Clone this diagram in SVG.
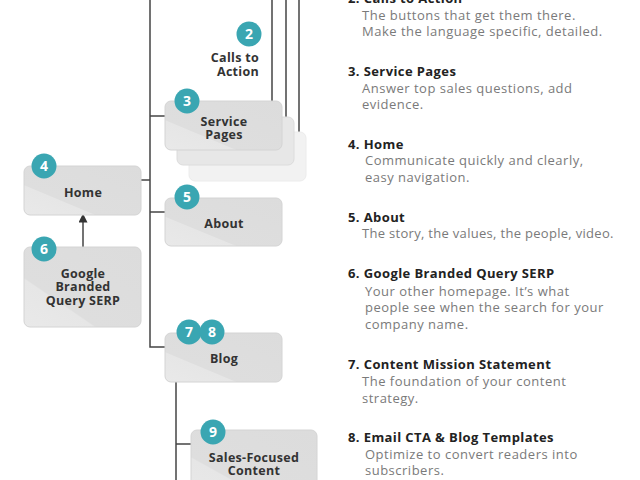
<svg xmlns="http://www.w3.org/2000/svg" width="640" height="480" viewBox="0 0 640 480">
<defs>
<linearGradient id="boxg" x1="0" y1="1" x2="1" y2="0">
<stop offset="0" stop-color="#e9e9e9"/>
<stop offset="0.3" stop-color="#e6e6e6"/>
<stop offset="0.31" stop-color="#dedede"/>
<stop offset="1" stop-color="#dcdcdc"/>
</linearGradient>
<marker id="arr" viewBox="0 0 10 10" refX="5" refY="5" markerWidth="6" markerHeight="6" orient="auto">
<path d="M0,0 L10,5 L0,10 z" fill="#333"/>
</marker>
</defs>
<style>
.box{fill:url(#boxg);stroke:#d4d4d4;stroke-width:1}
.badge{fill:#3aa6b2}
.bn{font-family:"Open Sans","Liberation Sans",sans-serif;font-weight:700;font-size:14px;fill:#fff;text-anchor:middle}
.lbl{font-family:"Open Sans","Liberation Sans",sans-serif;font-weight:700;font-size:12.5px;letter-spacing:0.3px;fill:#333;text-anchor:middle}
.r{text-anchor:end}
.h{font-family:"Open Sans","Liberation Sans",sans-serif;font-weight:700;font-size:13px;letter-spacing:0.4px;fill:#222}
.d{font-family:"Open Sans","Liberation Sans",sans-serif;font-size:13px;letter-spacing:0.5px;fill:#7a7a7a}
.ln{stroke:#444;stroke-width:1.5;fill:none}
</style>
<rect width="640" height="480" fill="#fff"/>
<g id="connectors">
<path class="ln" d="M150,0 V347 H165"/>
<path class="ln" d="M150,116 H165"/>
<path class="ln" d="M150,212 H165"/>
<path class="ln" d="M141,180 H150"/>
<path class="ln" d="M272,0 V101"/>
<path class="ln" d="M286,0 V117"/>
<path class="ln" d="M299,0 V132"/>
<path class="ln" d="M176,382 V480"/>
<path class="ln" d="M176,444 H191"/>
<path class="ln" d="M83,247 V218" marker-end="url(#arr)"/>
</g>
<g id="calls-to-action">
<circle class="badge" cx="249" cy="34" r="12.5"/>
<text class="bn" x="249" y="39">2</text>
<text class="lbl r" x="259" y="62">Calls to</text>
<text class="lbl r" x="259" y="75.5">Action</text>
</g>
<g id="service-pages">
<rect x="189" y="132" width="117" height="49" rx="6" fill="#f2f2f2" stroke="#ececec"/>
<rect x="177" y="117" width="117" height="48" rx="6" fill="#e7e7e7" stroke="#dcdcdc"/>
<rect class="box" x="165" y="101" width="117" height="49" rx="6"/>
<circle class="badge" cx="187" cy="101" r="12.5"/>
<text class="bn" x="187" y="106">3</text>
<text class="lbl" x="224" y="125.5">Service</text>
<text class="lbl" x="224" y="139">Pages</text>
</g>
<g id="home">
<rect class="box" x="24" y="166" width="117" height="49" rx="6"/>
<circle class="badge" cx="44" cy="166" r="12.5"/>
<text class="bn" x="44" y="171">4</text>
<text class="lbl" x="83" y="197">Home</text>
</g>
<g id="about">
<rect class="box" x="165" y="198" width="117" height="48" rx="6"/>
<circle class="badge" cx="187" cy="197" r="12.5"/>
<text class="bn" x="187" y="202">5</text>
<text class="lbl" x="224" y="228">About</text>
</g>
<g id="google-serp">
<rect class="box" x="24" y="247" width="117" height="80" rx="6"/>
<circle class="badge" cx="44" cy="249" r="12.5"/>
<text class="bn" x="44" y="254">6</text>
<text class="lbl" x="83" y="277.5">Google</text>
<text class="lbl" x="83" y="291">Branded</text>
<text class="lbl" x="83" y="304.5">Query SERP</text>
</g>
<g id="blog">
<rect class="box" x="165" y="333" width="117" height="49" rx="6"/>
<circle class="badge" cx="189" cy="332" r="12.5"/>
<text class="bn" x="189" y="337">7</text>
<circle class="badge" cx="212" cy="332" r="12.5"/>
<text class="bn" x="212" y="337">8</text>
<text class="lbl" x="224" y="363">Blog</text>
</g>
<g id="sales-content">
<rect class="box" x="191" y="430" width="126" height="70" rx="6"/>
<circle class="badge" cx="213" cy="432" r="12.5"/>
<text class="bn" x="213" y="437">9</text>
<text class="lbl" x="254" y="461.5">Sales-Focused</text>
<text class="lbl" x="254" y="475">Content</text>
</g>
<g id="descriptions">
<text class="h" x="348" y="3">2. Calls to Action</text>
<text class="d" x="362" y="20">The buttons that get them there.</text>
<text class="d" x="362" y="36">Make the language specific, detailed.</text>
<text class="h" x="348" y="76">3. Service Pages</text>
<text class="d" x="362" y="93">Answer top sales questions, add</text>
<text class="d" x="362" y="109">evidence.</text>
<text class="h" x="348" y="149">4. Home</text>
<text class="d" x="365" y="165">Communicate quickly and clearly,</text>
<text class="d" x="365" y="182">easy navigation.</text>
<text class="h" x="348" y="222">5. About</text>
<text class="d" x="362" y="238" textLength="252" lengthAdjust="spacing">The story, the values, the people, video.</text>
<text class="h" x="348" y="278">6. Google Branded Query SERP</text>
<text class="d" x="365" y="296">Your other homepage. It’s what</text>
<text class="d" x="365" y="312">people see when the search for your</text>
<text class="d" x="365" y="329">company name.</text>
<text class="h" x="348" y="369">7. Content Mission Statement</text>
<text class="d" x="362" y="386">The foundation of your content</text>
<text class="d" x="362" y="403">strategy.</text>
<text class="h" x="348" y="442">8. Email CTA &amp; Blog Templates</text>
<text class="d" x="365" y="459">Optimize to convert readers into</text>
<text class="d" x="365" y="475">subscribers.</text>
</g>
</svg>
